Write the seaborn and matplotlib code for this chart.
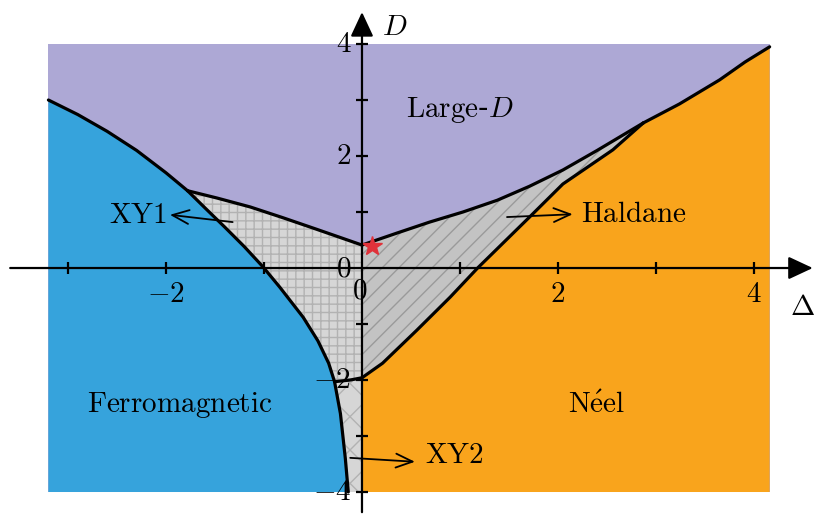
import seaborn as sns
import matplotlib.pyplot as plt
import pandas as pd

sns.set_theme(style='white')
plt.rcParams['mathtext.fontset'] = 'cm'
plt.rcParams['hatch.linewidth'] = 1.0
plt.rcParams['text.color'] = 'black'

# phase boundaries (Delta, D)
ferro_ld_x = [-3.2, -2.9, -2.6, -2.3, -2.0, -1.78]
ferro_ld_y = [3.0, 2.74, 2.44, 2.1, 1.7, 1.38]
xy1_ld_x = [-1.78, -1.48, -1.14, -0.81, -0.46, 0.0]
xy1_ld_y = [1.38, 1.25, 1.09, 0.9, 0.69, 0.41]
hald_ld_x = [0.0, 0.35, 0.69, 1.03, 1.38, 1.71, 2.05, 2.40, 2.87]
hald_ld_y = [0.41, 0.62, 0.82, 1.0, 1.21, 1.46, 1.75, 2.1, 2.59]
neel_ld_x = [2.87, 3.24, 3.65, 3.91, 4.16]
neel_ld_y = [2.59, 2.93, 3.36, 3.68, 3.95]
hald_neel_x = [0.0, 0.21, 0.56, 0.9, 1.18, 1.71, 2.05, 2.56, 2.87]
hald_neel_y = [-1.96, -1.7, -1.11, -0.52, 0.0, 0.91, 1.5, 2.11, 2.59]
ferro_xy_x = [-1.78, -1.6, -1.4, -1.2, -1.01, -0.84, -0.6, -0.45, -0.34, -0.28, -0.22, -0.17, -0.14]
ferro_xy_y = [1.38, 1.07, 0.73, 0.38, 0.02, -0.34, -0.88, -1.3, -1.7, -2.03, -2.6, -3.4, -4.0]
xy_split_x = [-0.28, -0.12, 0.0]
xy_split_y = [-2.03, -2.0, -1.96]

x_min, x_max = -3.2, 4.16
y_min, y_max = -4.0, 4.0
star = (0.1, 0.39)

c_large = '#ADA8D5'
c_ferro = '#36A3DC'
c_neel = '#F9A41C'
c_xy = '#D6D6D6'
c_hald = '#C3C3C3'

fig = plt.figure(figsize=(8.3, 5.26), dpi=100)
ax = fig.add_axes([0, 0, 1, 1])
ax.set_xlim(-3.694, 4.776)
ax.set_ylim(-4.607, 4.786)
ax.axis('off')

# background = Large-D
ax.fill([x_min, x_max, x_max, x_min], [y_min, y_min, y_max, y_max], color=c_large, lw=0)

# ferromagnetic
fx = ferro_ld_x + ferro_xy_x[1:] + [x_min]
fy = ferro_ld_y + ferro_xy_y[1:] + [y_min]
ax.fill(fx, fy, color=c_ferro, lw=0)

# Neel
nx = [0.0] + hald_neel_x + neel_ld_x[1:] + [x_max]
ny = [y_min] + hald_neel_y + neel_ld_y[1:] + [y_min]
ax.fill(nx, ny, color=c_neel, lw=0)

# Haldane
hx = hald_neel_x + hald_ld_x[::-1][1:]
hy = hald_neel_y + hald_ld_y[::-1][1:]
ax.fill(hx, hy, facecolor=c_hald, edgecolor='#9A9A9A', hatch='//', lw=0)

# XY1
i_split = ferro_xy_x.index(-0.28)
x1 = xy1_ld_x + xy_split_x[::-1] + ferro_xy_x[:i_split + 1][::-1][1:]
y1 = xy1_ld_y + xy_split_y[::-1] + ferro_xy_y[:i_split + 1][::-1][1:]
ax.fill(x1, y1, facecolor=c_xy, edgecolor='#B2B2B2', hatch='++', lw=0)

# XY2
x2 = xy_split_x + [0.0] + ferro_xy_x[i_split:][::-1]
y2 = xy_split_y + [y_min] + ferro_xy_y[i_split:][::-1]
ax.fill(x2, y2, facecolor=c_xy, edgecolor='#B2B2B2', hatch='x', lw=0)

# boundaries
for bx, by in [(ferro_ld_x, ferro_ld_y), (xy1_ld_x, xy1_ld_y), (hald_ld_x, hald_ld_y),
               (neel_ld_x, neel_ld_y), (hald_neel_x, hald_neel_y),
               (ferro_xy_x, ferro_xy_y), (xy_split_x, xy_split_y)]:
    df = pd.DataFrame({'x': bx, 'y': by})
    sns.lineplot(data=df, x='x', y='y', sort=False, estimator=None, color='black',
                 lw=2.3, ax=ax, solid_capstyle='round', solid_joinstyle='round')

# axes with arrows
arr = dict(arrowstyle='-|>,head_length=0.75,head_width=0.35', lw=1.6, color='black',
           shrinkA=0, shrinkB=0, mutation_scale=20)
ax.annotate('', xy=(4.6, 0), xytext=(-3.59, 0), arrowprops=arr)
ax.annotate('', xy=(0, 4.57), xytext=(0, -4.36), arrowprops=arr)

x_ticks = [-3, -2, -1, 1, 2, 3, 4]
y_ticks = [-4, -3, -2, -1, 1, 2, 3, 4]
ax.plot(x_ticks, [0] * len(x_ticks), ls='none', marker='|', ms=9, mew=1.6, color='black')
ax.plot([0] * len(y_ticks), y_ticks, ls='none', marker='_', ms=9, mew=1.6, color='black')

fs = 21
for v in [-2, 2, 4]:
    ax.text(v, -0.46, f'${v}$', ha='center', va='center', fontsize=fs)
for v in [-4, -2, 2, 4]:
    ax.text(-0.11, v, f'${v}$', ha='right', va='center', fontsize=fs)
ax.text(-0.19, 0.0, '$0$', ha='center', va='center', fontsize=fs)
ax.text(-0.02, -0.41, '$0$', ha='center', va='center', fontsize=fs)
ax.text(0.2, 4.3, '$D$', ha='left', va='center', fontsize=fs)
ax.text(4.5, -0.7, r'$\Delta$', ha='center', va='center', fontsize=fs)

ax.text(1.0, 2.82, r'$\mathrm{Large}$-$D$', ha='center', va='center', fontsize=fs)
ax.text(-1.86, -2.45, r'$\mathrm{Ferromagnetic}$', ha='center', va='center', fontsize=fs)
ax.text(2.39, -2.45, r'$\mathrm{N\acute{e}el}$', ha='center', va='center', fontsize=fs)
ax.text(2.24, 0.97, r'$\mathrm{Haldane}$', ha='left', va='center', fontsize=fs)
ax.text(-1.99, 0.95, r'$\mathrm{XY1}$', ha='right', va='center', fontsize=fs)
ax.text(0.64, -3.34, r'$\mathrm{XY2}$', ha='left', va='center', fontsize=fs)

thin = dict(arrowstyle='->,head_length=0.6,head_width=0.25', lw=1.3, color='black',
            shrinkA=0, shrinkB=0, mutation_scale=20)
ax.annotate('', xy=(2.15, 0.96), xytext=(1.48, 0.91), arrowprops=thin)
ax.annotate('', xy=(-1.96, 0.95), xytext=(-1.32, 0.82), arrowprops=thin)
ax.annotate('', xy=(0.54, -3.46), xytext=(-0.12, -3.39), arrowprops=thin)

ax.plot(*star, marker='*', ms=15, color='#E0323A', mec='#E0323A')

fig.savefig('out.png', dpi=100)
